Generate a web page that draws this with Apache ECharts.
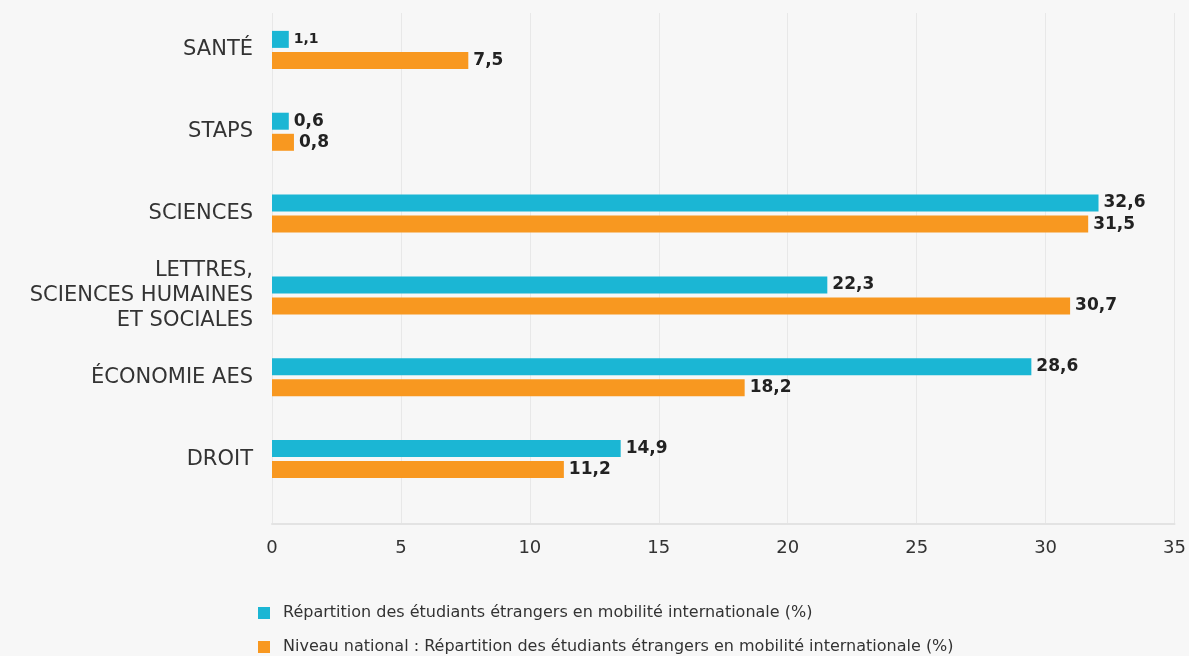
<!DOCTYPE html>
<html>
<head>
<meta charset="utf-8">
<script src="https://cdn.jsdelivr.net/npm/echarts@6/dist/echarts.min.js"></script>
<style>
html,body{margin:0;padding:0;background:#f7f7f7;}
#chart{width:1189px;height:656px;}
</style>
</head>
<body>
<div id="chart"></div>
<script>
// Categories, top to bottom
const categories = ['SANTÉ', 'STAPS', 'SCIENCES', 'LETTRES,\nSCIENCES HUMAINES\nET SOCIALES', 'ÉCONOMIE AES', 'DROIT'];
const seriesNames = [
  'Répartition des étudiants étrangers en mobilité internationale (%)',
  'Niveau national : Répartition des étudiants étrangers en mobilité internationale (%)'
];
// Bar lengths as drawn in the reference
const localValues = [0.65, 0.65, 32.0, 21.5, 29.4, 13.5];
const nationalValues = [7.6, 0.85, 31.6, 30.9, 18.3, 11.3];
// Printed value labels
const localLabels = ['1,1', '0,6', '32,6', '22,3', '28,6', '14,9'];
const nationalLabels = ['7,5', '0,8', '31,5', '30,7', '18,2', '11,2'];
// X axis ticks
const xMin = 0, xMax = 35, xStep = 5;

const FONT = "'DejaVu Sans', sans-serif";
const colors = ['#1bb6d4', '#f89820'];

const chart = echarts.init(document.getElementById('chart'), null, {renderer: 'canvas'});

function makeData(values, smallIdx) {
  return values.map((v, i) => {
    const item = {value: v};
    if (smallIdx.indexOf(i) >= 0) item.label = {fontSize: 14};
    return item;
  });
}

const labelBase = {
  show: true,
  position: 'right',
  distance: 5,
  fontFamily: FONT,
  fontSize: 17,
  fontWeight: 'bold',
  color: '#222'
};

function legendFor(name, top) {
  return {
    orient: 'vertical',
    left: 253,
    top: top,
    itemWidth: 12,
    itemHeight: 12,
    icon: 'rect',
    textStyle: {fontFamily: FONT, fontSize: 16, color: '#333', padding: [0, 0, 0, 8]},
    data: [name]
  };
}

chart.setOption({
  backgroundColor: '#f7f7f7',
  animation: false,
  color: colors,
  legend: [legendFor(seriesNames[0], 600), legendFor(seriesNames[1], 634)],
  grid: [
    {left: 272, right: 13, top: 13, bottom: 132},
    {left: 272, right: 13, top: 9, bottom: 156}
  ],
  xAxis: [
    {
      gridIndex: 0, type: 'value', min: xMin, max: xMax, interval: xStep,
      axisLine: {show: true, lineStyle: {color: '#e3e3e3', width: 2}},
      axisTick: {show: false},
      splitLine: {show: true, lineStyle: {color: '#e8e8e8', width: 1}},
      axisLabel: {fontFamily: FONT, fontSize: 18, color: '#333', margin: 15}
    },
    {gridIndex: 1, type: 'value', min: xMin, max: xMax, show: false, splitLine: {show: false}}
  ],
  yAxis: [
    {gridIndex: 0, type: 'value', show: false, splitLine: {show: false}},
    {
      gridIndex: 1, type: 'category', inverse: true, data: categories,
      axisLine: {show: false}, axisTick: {show: false},
      axisLabel: {fontFamily: FONT, fontSize: 21, color: '#333', margin: 19, lineHeight: 25, align: 'right'}
    }
  ],
  series: [
    {
      name: seriesNames[0], type: 'bar', xAxisIndex: 1, yAxisIndex: 1,
      barWidth: 17, barGap: '24%',
      itemStyle: {color: colors[0]},
      label: Object.assign({}, labelBase, {formatter: p => localLabels[p.dataIndex]}),
      data: makeData(localValues, [0])
    },
    {
      name: seriesNames[1], type: 'bar', xAxisIndex: 1, yAxisIndex: 1,
      barWidth: 17, barGap: '24%',
      itemStyle: {color: colors[1]},
      label: Object.assign({}, labelBase, {formatter: p => nationalLabels[p.dataIndex]}),
      data: makeData(nationalValues, [])
    }
  ]
});
</script>
</body>
</html>
